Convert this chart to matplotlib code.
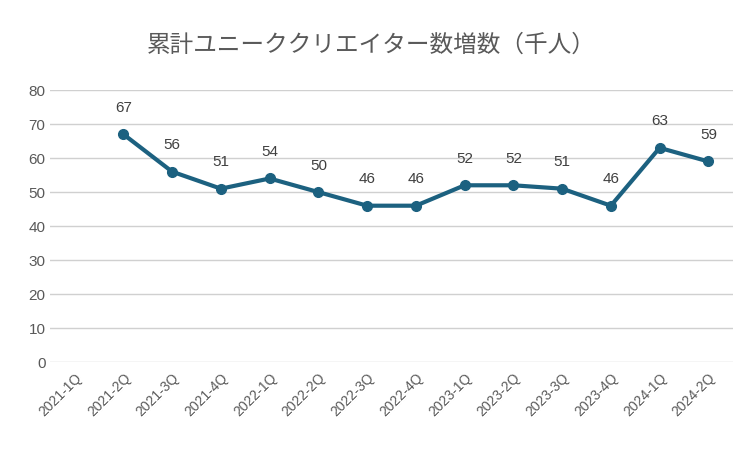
import matplotlib
matplotlib.use("Agg")
import matplotlib.pyplot as plt
import numpy as np

plt.rcParams['font.family'] = ['Liberation Sans', 'Noto Sans CJK JP', 'DejaVu Sans']

categories = ["2021-1Q","2021-2Q","2021-3Q","2021-4Q","2022-1Q","2022-2Q","2022-3Q","2022-4Q",
              "2023-1Q","2023-2Q","2023-3Q","2023-4Q","2024-1Q","2024-2Q"]
values = [np.nan,67,56,51,54,50,46,46,52,52,51,46,63,59]
title = "累計ユニーククリエイター数増数（千人）"

fig = plt.figure(figsize=(7.5,4.5), dpi=100)
ax = fig.add_axes([0.067, 0.195, 0.91, 0.605])
x = np.arange(len(categories))
color = "#1c6180"
ax.plot(x, values, color=color, lw=3, marker="o", ms=7, zorder=3)
for xi, v in zip(x, values):
    if not np.isnan(v):
        ax.annotate(f"{int(v)}", (xi, v), xytext=(0, 14), textcoords="offset points",
                    ha="center", va="bottom", fontsize=11, color="#404040")
ax.set_ylim(0, 80)
ax.set_yticks(range(0, 81, 10))
ax.set_xlim(-0.5, len(categories)-0.5)
ax.set_xticks(x)
ax.set_xticklabels(categories, rotation=45, ha="right", rotation_mode="anchor", fontsize=10, color="#595959")
ax.tick_params(axis="y", labelsize=11, colors="#595959", length=0)
ax.tick_params(axis="x", length=0, pad=6)
ax.grid(axis="y", color="#d0d0d0", lw=1)
ax.set_axisbelow(True)
for s in ax.spines.values():
    s.set_visible(False)
fig.text(0.495, 0.9, title, ha="center", va="center", fontsize=17, color="#595959",
         family=['Noto Sans CJK JP', 'DejaVu Sans'])
fig.savefig("out.png")
